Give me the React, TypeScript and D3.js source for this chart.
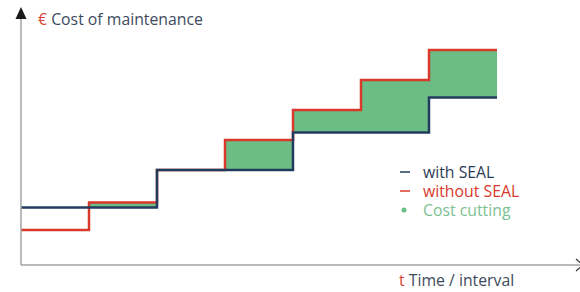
import React from "react";
import * as d3 from "d3";

// periods (step boundaries) and cost levels per period
const periods = [0, 1, 2, 3, 4, 5, 6];
const withSeal = [2.3, 2.3, 3.8, 3.8, 5.3, 5.3, 6.7];
const withoutSeal = [1.4, 2.5, 3.8, 5.0, 6.2, 7.4, 8.6];
const legendItems = ["with SEAL", "without SEAL", "Cost cutting"];

const W = 580;
const H = 292;

const App = () => {
  const x = d3.scaleLinear().domain([0, 7]).range([21, 497]);
  const y = d3.scaleLinear().domain([0, 10]).range([265, 15]);

  // repeat last value so the step reaches the end of the final interval
  const pts = periods.map((p, i) => ({ t: p, a: withSeal[i], b: withoutSeal[i] }));
  const last = pts[pts.length - 1];
  pts.push({ t: 7, a: last.a, b: last.b });

  const line = (key: "a" | "b") =>
    d3
      .line<{ t: number; a: number; b: number }>()
      .x((d) => x(d.t))
      .y((d) => y(d[key]))
      .curve(d3.curveStepAfter)(pts) as string;

  const area = d3
    .area<{ t: number; a: number; b: number }>()
    .x((d) => x(d.t))
    .y0((d) => y(d.a))
    .y1((d) => y(Math.max(d.a, d.b)))
    .curve(d3.curveStepAfter)(pts) as string;

  const blue = "#233c5e";
  const red = "#d8392b";
  const green = "#6cbc86";
  const textDark = "#3d4a5c";
  const font = "'Open Sans', sans-serif";

  const legendColors = [blue, red, green];
  const legendText = ["#2c3b56", "#d8392b", "#7cbf92"];

  return (
    <svg width={W} height={H} style={{ position: "absolute", left: 0, top: 0 }}>
      <rect width={W} height={H} fill="#fff" />
      <path d={area} fill={green} />
      <path d={line("b")} fill="none" stroke={red} strokeWidth={2.5} />
      <path d={line("a")} fill="none" stroke={blue} strokeWidth={2.5} />

      {/* axes */}
      <line x1={21} y1={265} x2={21} y2={17} stroke="#a3a3a3" strokeWidth={1.5} />
      <line x1={21} y1={265} x2={580} y2={265} stroke="#a3a3a3" strokeWidth={1.5} />
      <path d="M21,7 L15.5,19 L26.5,19 Z" fill="#1a1a1a" />
      <path d="M576,259 L583,265 L576,271" fill="none" stroke="#333" strokeWidth={1.2} />

      <text x={38} y={25} fontFamily={font} fontSize={15.8} fill={textDark}>
        <tspan fill="#d9443a">€</tspan> Cost of maintenance
      </text>
      <text x={399} y={286} fontFamily={font} fontSize={15.8} fill={textDark}>
        <tspan fill="#d9443a">t</tspan> Time / interval
      </text>

      {legendItems.map((name, i) => {
        const cy = 172 + i * 19;
        return (
          <g key={name}>
            {i < 2 ? (
              <line x1={400} x2={410} y1={cy} y2={cy} stroke={legendColors[i]} strokeWidth={1.5} />
            ) : (
              <circle cx={404} cy={cy} r={2.5} fill={legendColors[i]} />
            )}
            <text x={423} y={cy + 5.5} fontFamily={font} fontSize={15.8} fill={legendText[i]}>
              {name}
            </text>
          </g>
        );
      })}
    </svg>
  );
};

export default App;
